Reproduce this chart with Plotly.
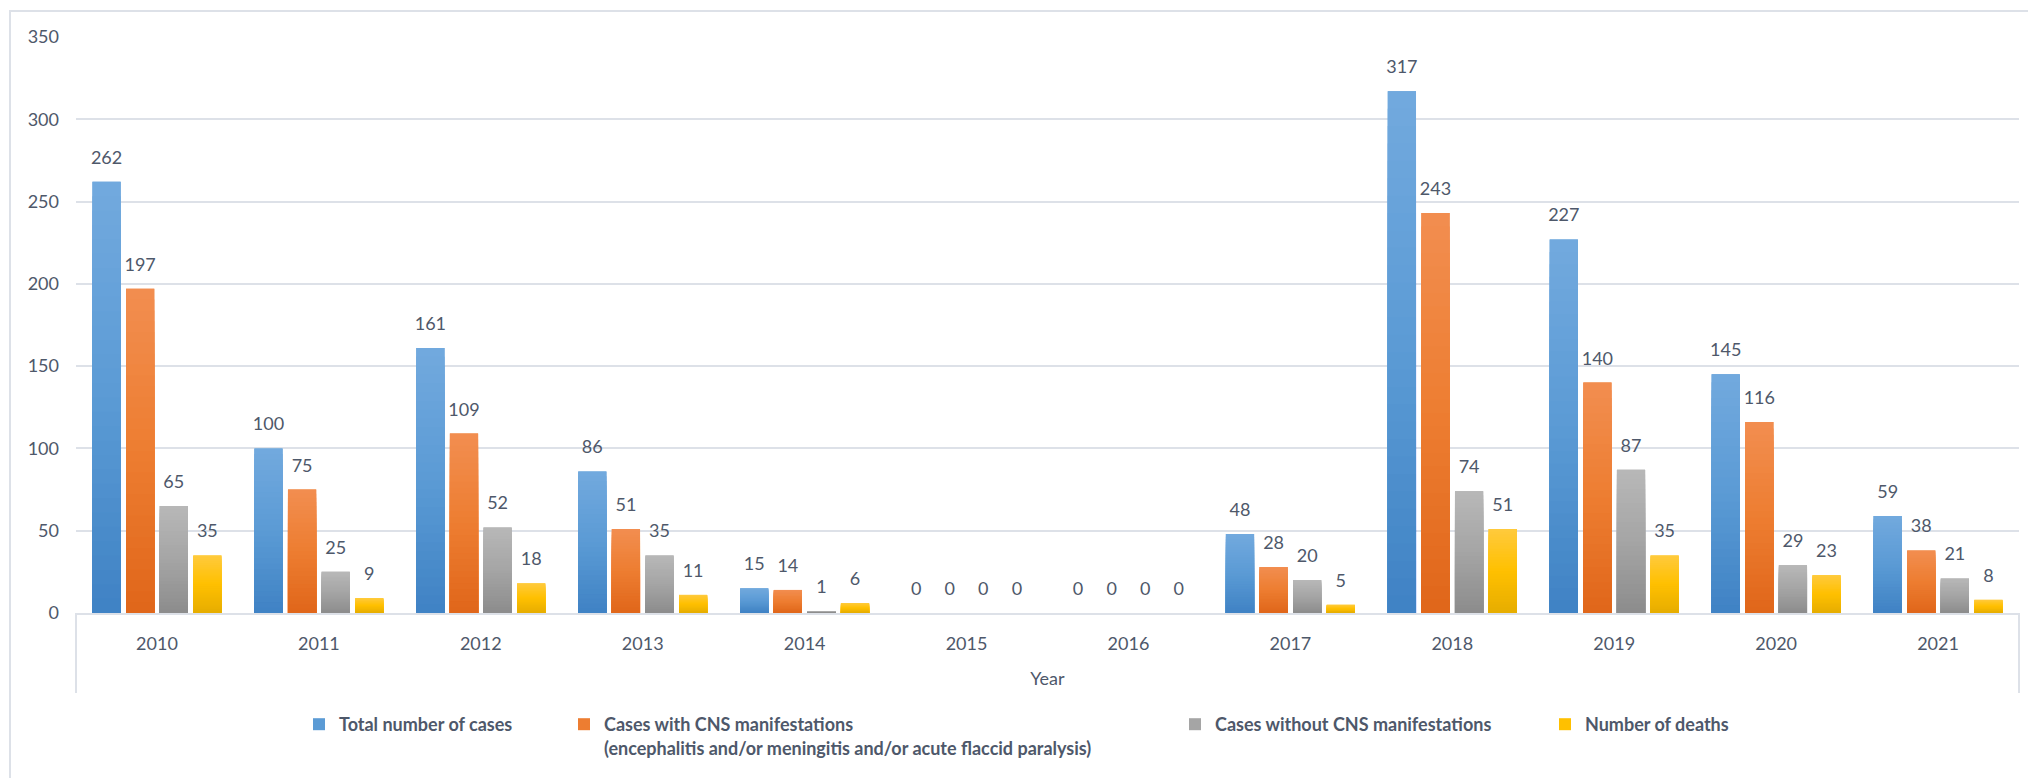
import plotly.graph_objects as go

# Annual case counts by year
years = ["2010", "2011", "2012", "2013", "2014", "2015",
         "2016", "2017", "2018", "2019", "2020", "2021"]
total_cases = [262, 100, 161, 86, 15, 0, 0, 48, 317, 227, 145, 59]
cns_cases = [197, 75, 109, 51, 14, 0, 0, 28, 243, 140, 116, 38]
non_cns_cases = [65, 25, 52, 35, 1, 0, 0, 20, 74, 87, 29, 21]
deaths = [35, 9, 18, 11, 6, 0, 0, 5, 51, 35, 23, 8]

series_names = [
    "Total number of cases",
    "Cases with CNS manifestations<br>(encephalitis and/or meningitis and/or acute flaccid paralysis)",
    "Cases without CNS manifestations",
    "Number of deaths",
]
series_values = [total_cases, cns_cases, non_cns_cases, deaths]

# (bottom, middle, top) colours of each bar's vertical gradient
series_gradients = [
    ("#3f82c4", "#5b9bd5", "#72a9de"),
    ("#e0661a", "#ed7d31", "#f28e50"),
    ("#8c8c8c", "#a5a5a5", "#b8b8b8"),
    ("#e6ad00", "#ffc000", "#ffca3d"),
]

FONT = "Lato"
TEXT_COLOR = "#4e586a"
LINE_COLOR = "#dde1e8"
N_STEPS = 30
BAR_GAP = 0.17


def hex_to_rgb(h):
    h = h.lstrip("#")
    return tuple(int(h[i:i + 2], 16) for i in (0, 2, 4))


def gradient_color(stops, t):
    """Colour at fraction t (0 = bottom, 1 = top) of a three-stop gradient."""
    lo, mid, hi = (hex_to_rgb(c) for c in stops)
    if t <= 0.5:
        a, b, f = lo, mid, t / 0.5
    else:
        a, b, f = mid, hi, (t - 0.5) / 0.5
    r, g, bl = (round(a[i] + (b[i] - a[i]) * f) for i in range(3))
    return f"rgb({r},{g},{bl})"


fig = go.Figure()

legend_ids = ["legend", "legend2", "legend3", "legend4"]

for k, (name, vals, grad) in enumerate(zip(series_names, series_values, series_gradients)):
    group = f"s{k}"
    # Base bar: carries the legend entry
    fig.add_trace(go.Bar(
        x=years, y=vals, name=name, offsetgroup=group,
        marker=dict(color=grad[1], line=dict(width=0)),
        legend=legend_ids[k], hoverinfo="x+y",
    ))
    # Gradient fill: nested bars from base 0, tallest (lightest) first
    for step in range(N_STEPS, 0, -1):
        frac = step / N_STEPS
        t = (step - 0.5) / N_STEPS
        fig.add_trace(go.Bar(
            x=years, y=[v * frac for v in vals], offsetgroup=group,
            marker=dict(color=gradient_color(grad, t), line=dict(width=0)),
            showlegend=False, hoverinfo="skip",
        ))

# Value labels above each bar, grouped the same way as the bars
for k, vals in enumerate(series_values):
    fig.add_trace(go.Scatter(
        x=years, y=vals, offsetgroup=f"s{k}", mode="markers+text",
        marker=dict(size=20, color="rgba(0,0,0,0)"),
        text=[str(v) for v in vals], textposition="top center",
        textfont=dict(family=FONT, size=18, color=TEXT_COLOR),
        cliponaxis=False, showlegend=False, hoverinfo="skip",
    ))

W, H = 2028, 778
L, R, T, B = 76, 9, 37, 165
pw, ph = W - L - R, H - T - B


def px_x(px):
    return (px - L) / pw


def px_y(py):
    return (H - B - py) / ph


shapes = [
    # outer chart border
    dict(type="rect", xref="paper", yref="paper",
         x0=px_x(10), y0=px_y(H + 40), x1=px_x(W + 40), y1=px_y(11),
         line=dict(color=LINE_COLOR, width=2), layer="below"),
    # category axis box sides
    dict(type="line", xref="paper", yref="paper",
         x0=0, x1=0, y0=0, y1=px_y(693), line=dict(color=LINE_COLOR, width=2)),
    dict(type="line", xref="paper", yref="paper",
         x0=1, x1=1, y0=0, y1=px_y(693), line=dict(color=LINE_COLOR, width=2)),
]

legend_text_x = [339, 604, 1215, 1585]
legends = {}
for lid, tx in zip(legend_ids, legend_text_x):
    legends[lid] = dict(
        x=px_x(tx - 40), xanchor="left", y=px_y(706), yanchor="top",
        orientation="h", valign="top", bgcolor="rgba(0,0,0,0)",
        font=dict(family=FONT, size=18, color=TEXT_COLOR, weight="bold"),
        itemclick=False,
    )

fig.update_layout(
    width=W, height=H,
    margin=dict(l=L, r=R, t=T, b=B, autoexpand=False),
    paper_bgcolor="white", plot_bgcolor="white",
    barmode="group", bargap=BAR_GAP, bargroupgap=0.16,
    scattermode="group", scattergap=BAR_GAP,
    font=dict(family=FONT, size=18, color=TEXT_COLOR),
    shapes=shapes,
    showlegend=True,
    **legends,
)

fig.update_xaxes(
    type="category", showgrid=False, showline=True,
    linecolor=LINE_COLOR, linewidth=2, ticks="",
    tickfont=dict(family=FONT, size=18, color=TEXT_COLOR),
    ticklabelstandoff=13,
    title=dict(text="Year", standoff=20,
               font=dict(family=FONT, size=18, color=TEXT_COLOR)),
)
fig.update_yaxes(
    range=[0, 350], dtick=50, showgrid=True, gridcolor=LINE_COLOR,
    gridwidth=2, zeroline=False, showline=False, ticks="",
    tickfont=dict(family=FONT, size=18, color=TEXT_COLOR),
    ticklabelstandoff=16,
)

fig.write_html("out.html")
